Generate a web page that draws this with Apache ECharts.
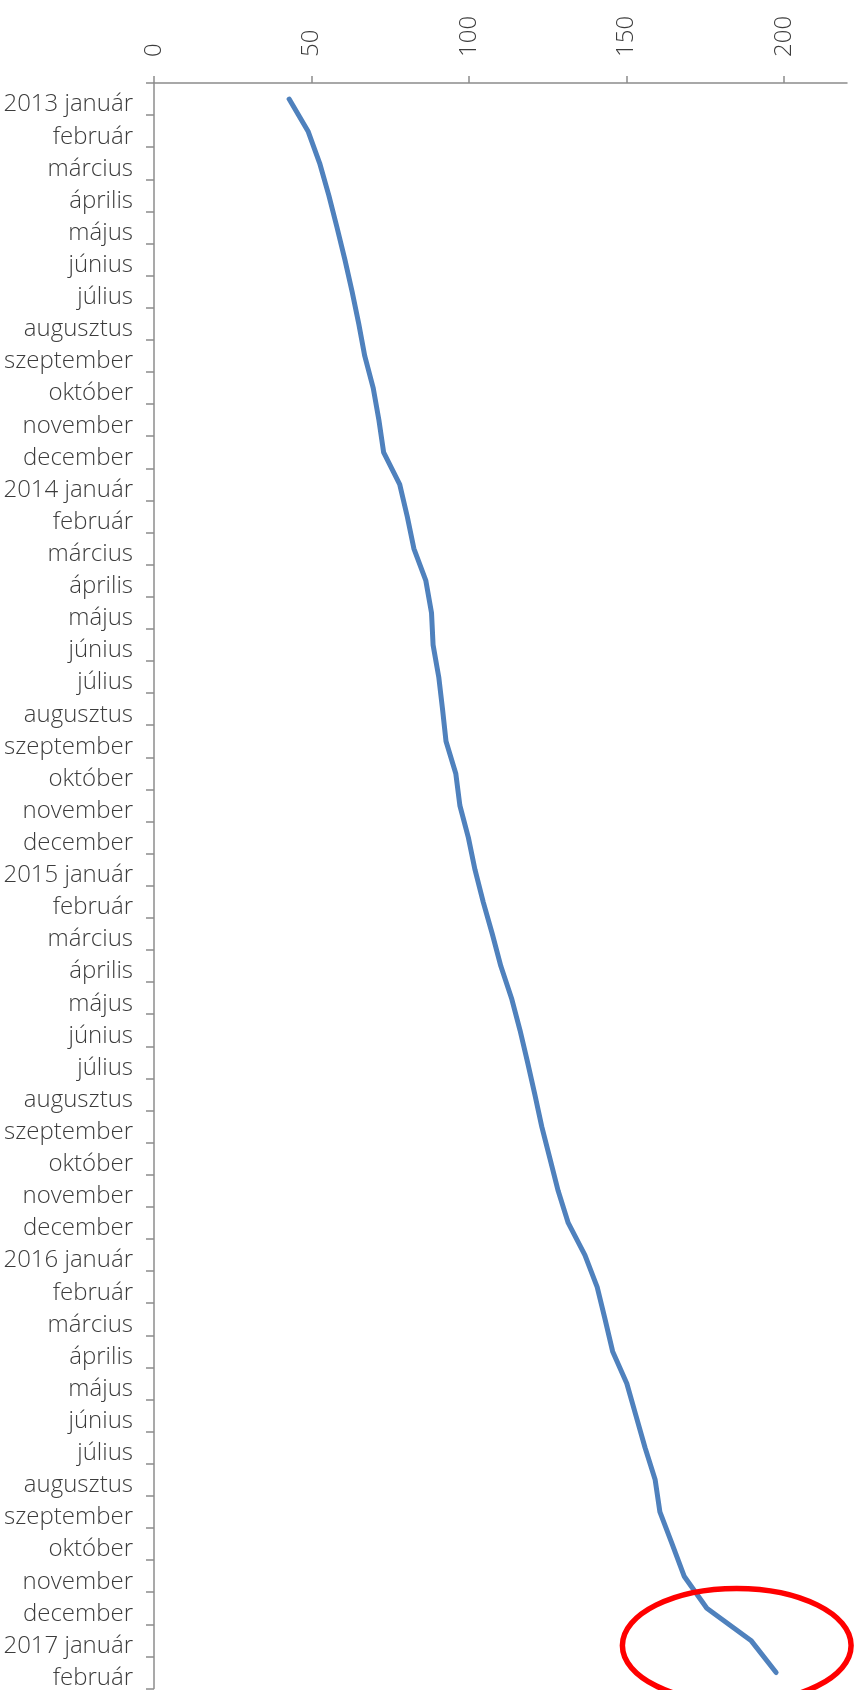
<!DOCTYPE html>
<head>
    <meta charset="utf-8">
    <title>ECharts</title>
    <style>
    html,body { height:100%; width:100%; margin:0; background:white; padding:0; }
    #main { width:858px; height:1690px; }
    </style>
</head>
<body>
    <div id="main"></div>
    <script src="https://cdn.jsdelivr.net/npm/echarts@6/dist/echarts.min.js"></script>
    <script type="text/javascript">
    // honapok (2013 jan - 2017 feb)
    var months = ['január', 'február', 'március', 'április', 'május', 'június',
                  'július', 'augusztus', 'szeptember', 'október', 'november', 'december'];
    var years = [2013, 2014, 2015, 2016, 2017];
    var categories = [];
    for (var y = 0; y < years.length; y++) {
        for (var m = 0; m < 12; m++) {
            if (years[y] == 2017 && m > 1) break;
            categories.push(m == 0 ? years[y] + ' ' + months[m] : months[m]);
        }
    }

    // ertekek, leolvasva
    var values = [
        42.9, 48.9, 52.6, 55.5, 58.1, 60.6, 62.9, 65.0, 66.9, 69.6, 71.4, 72.9,
        78.0, 80.4, 82.5, 86.3, 88.1, 88.6, 90.4, 91.6, 92.7, 95.8, 97.1, 99.8,
        101.9, 104.5, 107.4, 110.1, 113.5, 116.2, 118.6, 120.9, 123.1, 125.7, 128.3, 131.5,
        136.8, 140.7, 143.2, 145.6, 150.1, 153.0, 155.9, 159.1, 160.6, 164.5, 168.3, 175.5,
        189.5, 197.5
    ];

    var valueTicks = [0, 50, 100, 150, 200];

    var labelFont = { fontFamily: 'Open Sans', fontWeight: 300, fontSize: 24, color: '#3c3c3c' };
    var axisGray = '#8c8c8c';

    var myChart = echarts.init(document.getElementById('main'));

    var option = {
        animation: false,
        backgroundColor: '#fff',
        grid: { left: 154, right: 11, top: 83, height: 1608 },
        xAxis: {
            type: 'value',
            position: 'top',
            min: 0,
            max: 220,
            interval: 50,
            splitLine: { show: false },
            axisLine: { show: true, lineStyle: { color: axisGray, width: 1.5 } },
            axisTick: { show: true, length: 7, customValues: valueTicks, lineStyle: { color: axisGray, width: 1.5 } },
            axisLabel: Object.assign({ rotate: -90, margin: 26, customValues: valueTicks }, labelFont)
        },
        yAxis: {
            type: 'category',
            inverse: true,
            data: categories,
            boundaryGap: true,
            axisLine: { show: true, lineStyle: { color: axisGray, width: 1.5 } },
            axisTick: { show: true, length: 8, interval: 0, lineStyle: { color: axisGray, width: 1.5 } },
            axisLabel: Object.assign({
                interval: 0,
                margin: 21,
                formatter: function (v) { return '{c|' + v + '}'; },
                rich: { c: Object.assign({ padding: [11, 0, 0, 0] }, labelFont) }
            }, labelFont)
        },
        series: [{
            type: 'line',
            data: values,
            showSymbol: false,
            symbol: 'none',
            lineStyle: { color: '#4f81bd', width: 5, cap: 'round', join: 'round' }
        }]
    };
    myChart.setOption(option, true);

    // piros ellipszis a vegen (annotacio)
    var c1 = myChart.convertToPixel({ gridIndex: 0 }, [185, 48]);
    var c2 = myChart.convertToPixel({ gridIndex: 0 }, [185, 49]);
    var left = myChart.convertToPixel({ gridIndex: 0 }, [148.7, 48])[0];
    var cx = c1[0], cy = (c1[1] + c2[1]) / 2 - 11;
    myChart.setOption({
        graphic: [{
            type: 'ellipse',
            shape: { cx: cx, cy: cy, rx: cx - left, ry: 57 },
            style: { fill: null, stroke: '#ff0000', lineWidth: 5.5 },
            z: 100
        }]
    });
    </script>
</body>
